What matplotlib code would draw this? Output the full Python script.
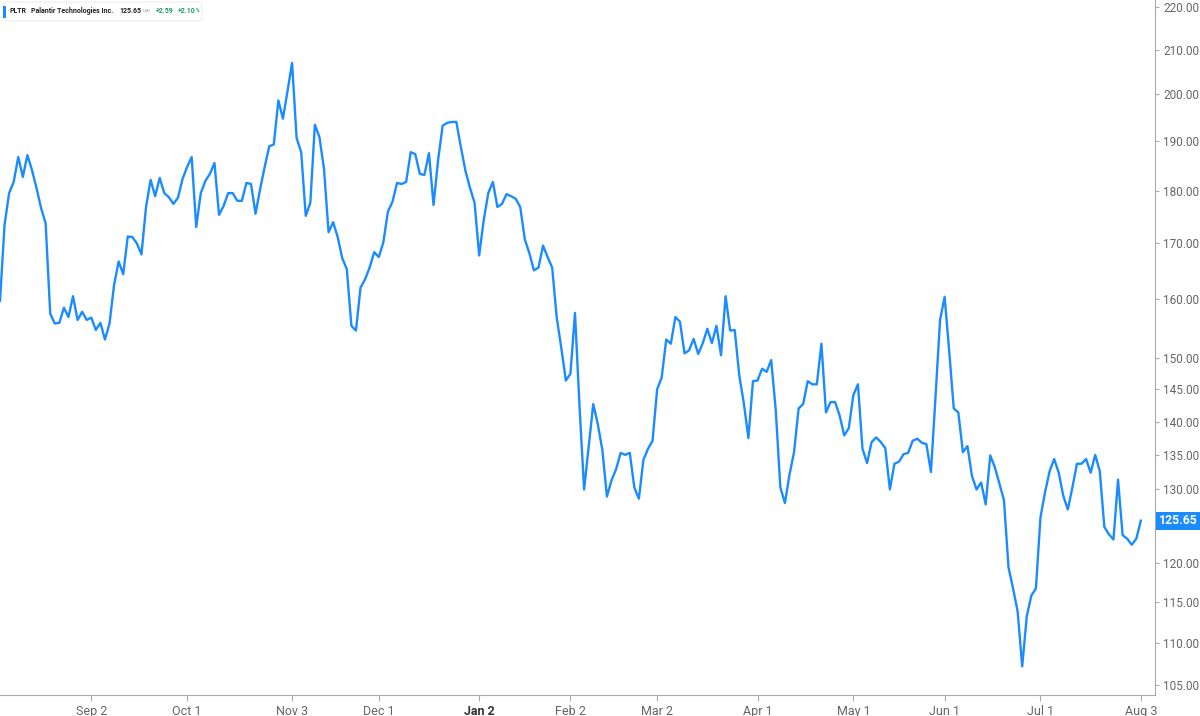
import numpy as np
import matplotlib.pyplot as plt
import matplotlib.ticker as mticker
from matplotlib.patches import FancyBboxPatch, Rectangle
from matplotlib.text import Annotation

plt.rcParams['font.family'] = ['Roboto', 'DejaVu Sans']

# daily closes, PLTR
prices = [
    159.7, 173.5, 179.6, 181.8, 186.8, 182.8, 187.2, 184.2, 180.6, 176.7,
    173.8, 157.5, 155.8, 155.9, 158.5, 156.9, 160.5, 156.4, 157.8, 156.4,
    156.8, 154.7, 155.9, 153.1, 155.8, 162.5, 166.7, 164.4, 171.3, 171.2,
    170.0, 168.0, 176.9, 182.2, 179.0, 182.6, 179.6, 178.8, 177.5, 178.7,
    182.4, 184.8, 186.8, 173.1, 179.6, 182.0, 183.4, 185.6, 175.4, 177.1,
    179.6, 179.6, 178.1, 178.1, 181.6, 181.4, 175.6, 180.4, 184.8, 189.0,
    189.4, 198.7, 194.8, 200.7, 207.0, 190.7, 187.8, 175.2, 177.7, 193.5,
    190.9, 184.4, 172.1, 174.0, 171.2, 167.3, 165.3, 155.4, 154.6, 162.0,
    163.5, 165.6, 168.4, 167.5, 170.2, 176.0, 177.9, 181.6, 181.4, 181.8,
    187.8, 187.4, 183.4, 183.2, 187.6, 177.3, 186.2, 193.3, 193.9, 194.1,
    194.1, 188.8, 184.0, 180.6, 177.7, 167.8, 174.4, 179.6, 181.8, 176.9,
    177.5, 179.4, 179.0, 178.5, 176.9, 170.8, 168.2, 165.1, 165.6, 169.6,
    167.5, 165.6, 156.8, 151.7, 146.4, 147.5, 157.6, 142.2, 130.0, 136.2,
    142.7, 139.6, 135.7, 129.0, 131.3, 132.9, 135.3, 135.0, 135.3, 130.3,
    128.7, 134.3, 135.9, 137.1, 145.0, 146.9, 153.1, 152.4, 156.9, 156.1,
    150.8, 151.3, 153.2, 150.7, 152.5, 154.9, 152.5, 155.4, 150.5, 160.5,
    154.6, 154.7, 147.2, 142.8, 137.5, 146.3, 146.4, 148.3, 147.8, 149.7,
    141.7, 130.3, 128.1, 132.1, 135.4, 142.0, 142.7, 146.3, 145.8, 145.8,
    152.4, 141.4, 143.0, 143.0, 140.9, 137.9, 139.0, 144.1, 145.8, 135.9,
    133.8, 136.9, 137.6, 136.9, 136.0, 130.0, 133.7, 134.0, 135.1, 135.3,
    137.1, 137.4, 136.8, 136.6, 132.5, 143.8, 156.4, 160.4, 151.2, 142.0,
    141.4, 135.4, 136.3, 131.9, 130.0, 131.0, 127.9, 134.9, 133.2, 130.8,
    128.5, 119.4, 116.7, 113.8, 107.2, 113.2, 115.8, 116.7, 126.1, 129.6,
    132.6, 134.4, 132.4, 129.1, 127.2, 130.3, 133.7, 133.7, 134.4, 132.4,
    135.0, 132.6, 124.8, 123.8, 123.1, 131.4, 123.7, 123.2, 122.4, 123.2,
    125.65,
]

# trading-day index of each month label
tick_days = [20, 41, 64, 83, 105, 125, 144, 166, 187, 207, 228, 250]
tick_labels = ["Sep 2", "Oct 1", "Nov 3", "Dec 1", "Jan 2", "Feb 2",
               "Mar 2", "Apr 1", "May 1", "Jun 1", "Jul 1", "Aug 3"]
y_ticks = [105, 110, 115, 120, 125, 130, 135, 140, 145, 150,
           160, 170, 180, 190, 200, 210, 220]

BLUE = '#1a8cff'
GREEN = '#1f9d66'
W, H = 1200, 716

fig = plt.figure(figsize=(12, 7.16), dpi=100)
ax = fig.add_axes([0, 21 / H, 1155 / W, 695 / H])

x = np.arange(len(prices))
ax.plot(x, prices, color=BLUE, lw=1.7)

ax.set_yscale('log')
ax.set_ylim(103.9, 221.7)
ax.set_xlim(0, 253.1)

ax.yaxis.tick_right()
ax.set_yticks(y_ticks)
ax.yaxis.set_major_formatter(mticker.FormatStrFormatter('%.2f'))
ax.yaxis.set_minor_locator(mticker.NullLocator())
ax.tick_params(axis='y', direction='out', length=3, width=0.8, color='#aaaaaa',
               labelcolor='#666666', labelsize=8.5, pad=3)

ax.set_xticks(tick_days)
ax.set_xticklabels(tick_labels)
ax.tick_params(axis='x', direction='out', length=4, width=0.8, color='#aaaaaa',
               labelcolor='#666666', labelsize=9, pad=3)
for lab in ax.get_xticklabels():
    if lab.get_text() == "Jan 2":
        lab.set_fontweight('bold')
        lab.set_color('#333333')

for s in ['top', 'left']:
    ax.spines[s].set_visible(False)
for s in ['right', 'bottom']:
    ax.spines[s].set_color('#aaaaaa')
    ax.spines[s].set_linewidth(0.8)

# last price tag on the axis (covers the 125.00 label like the original)
ax.annotate(f'{prices[-1]:.2f}', xy=(1, prices[-1]),
            xycoords=('axes fraction', 'data'),
            xytext=(2.5, 0), textcoords='offset points',
            ha='left', va='center', color='white', fontsize=8.8,
            fontweight='bold', annotation_clip=False, zorder=10,
            bbox=dict(boxstyle='square,pad=0.2', fc=BLUE, ec='none'))


# header legend
def fx(px):
    return px / W


def fy(py):
    return 1 - py / H


fig.patches.append(FancyBboxPatch((fx(3), fy(21)), fx(199), 19 / H,
                                  boxstyle='round,pad=0,rounding_size=0.003',
                                  transform=fig.transFigure, fc='white',
                                  ec='#eeeeee', lw=0.8, zorder=5))
fig.patches.append(Rectangle((fx(3), fy(18)), fx(2.5), 12 / H,
                             transform=fig.transFigure, fc=BLUE, ec='none',
                             zorder=6))

parts = [
    ("Palantir Technologies Inc.", 5.0, 'bold', '#222222', 3),
    ("125.65", 5.0, 'bold', '#222222', 4),
    ("USD", 3.0, 'normal', '#888888', 1),
    ("+2.59", 5.0, 'bold', GREEN, 4),
    ("+2.10", 5.0, 'bold', GREEN, 3),
    ("%", 3.4, 'bold', GREEN, 0.3),
]
prev = fig.text(fx(10), fy(11), "PLTR", fontsize=5.0, fontweight='bold',
                color='#222222', va='center', zorder=7)
for txt, fs, fw, col, gap in parts:
    ann = Annotation(txt, xy=(1, 0.5), xycoords=prev, xytext=(gap, 0),
                     textcoords='offset points', ha='left', va='center',
                     fontsize=fs, fontweight=fw, color=col, zorder=7)
    fig.add_artist(ann)
    prev = ann

fig.savefig('out.png', dpi=100, facecolor='white')
